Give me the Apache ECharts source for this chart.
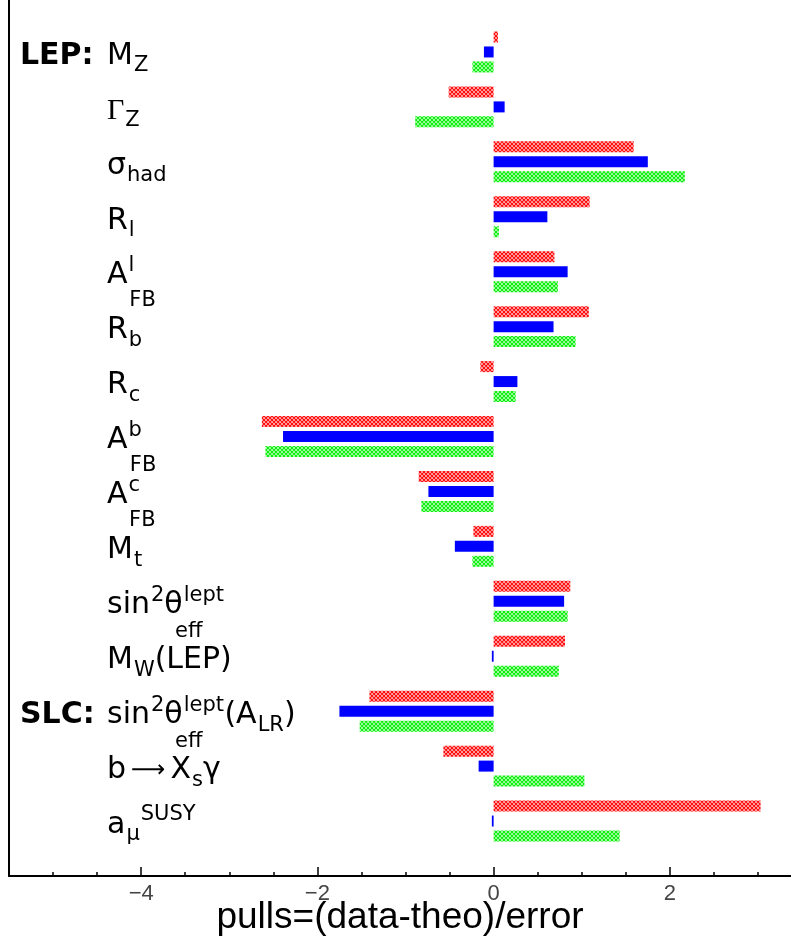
<!DOCTYPE html>
<html><head><meta charset="utf-8">
<script src="https://cdn.jsdelivr.net/npm/echarts@6/dist/echarts.min.js"></script>
<style>html,body{margin:0;padding:0;background:#fff}#c{width:791px;height:943px}</style>
</head><body><div id="c"></div>
<script>
// ---- data ----
const categories = ['M_Z','Gamma_Z','sigma_had','R_l','A_FB^l','R_b','R_c','A_FB^b','A_FB^c','M_t','sin2theta_eff','M_W(LEP)','sin2theta_eff(A_LR)','b->X_s gamma','a_mu^SUSY'];
const groupLabels = ['LEP:','','','','','','','','','','','','SLC:','',''];
const redPulls   = [0.05,-0.51,1.59,1.09,0.69,1.08,-0.15,-2.63,-0.85,-0.23,0.87,0.81,-1.41,-0.57,3.03];
const bluePulls  = [-0.11,0.125,1.75,0.61,0.84,0.68,0.27,-2.39,-0.74,-0.44,0.80,-0.02,-1.75,-0.17,-0.02];
const greenPulls = [-0.24,-0.89,2.17,0.06,0.73,0.93,0.25,-2.59,-0.82,-0.24,0.84,0.74,-1.52,1.03,1.43];
const majorTicks = [-4,-2,0,2];
const minorTicks = [-5,-4.5,-3.5,-3,-2.5,-1.5,-1,-0.5,0.5,1,1.5,2.5,3];
const xTitle = 'pulls=(data-theo)/error';
// rich-text label markup (sub/superscripts)
const labelMarkup = [
  '{m|M}{sub|Z}',
  '{gr|Γ}{sub|Z}',
  '{m|σ}{sub|had}',
  '{m|R}{sub|l}',
  '{m|A}{sup|l}{fbl|FB}',
  '{m|R}{sub|b}',
  '{m|R}{sub|c}',
  '{m|A}{sup|b}{fbb|FB}',
  '{m|A}{sup|c}{fbc|FB}',
  '{m|M}{sub|t}',
  '{m|sin}{sup|2}{m|θ}{sup|lept}{eff|eff}',
  '{m|M}{sub|W}{m|(LEP)}',
  '{m|sin}{sup|2}{m|θ}{sup|lept}{eff|eff}{par|(A}{sub|LR}{m|)}',
  '{m|b}{ar|⟶}{m|X}{sub|s}{m|γ}',
  '{m|a}{sub|μ}{sup|SUSY}'
];

// ---- style ----
const F = 'DejaVu Sans';
const MS = 30, SS = 21;
function hatch(color){
  const c = document.createElement('canvas'); c.width = 4; c.height = 4;
  const x = c.getContext('2d');
  x.strokeStyle = color; x.lineWidth = 1.3;
  x.beginPath();
  x.moveTo(-1,-1); x.lineTo(5,5);
  x.moveTo(5,-1); x.lineTo(-1,5);
  x.moveTo(-1,3); x.lineTo(1,5); x.moveTo(3,-1); x.lineTo(5,1);
  x.moveTo(-1,1); x.lineTo(1,-1); x.moveTo(3,5); x.lineTo(5,3);
  x.stroke();
  return {image: c, repeat: 'repeat'};
}
// token style; dy = vertical shift (px, down positive), dx = left padding
function tok(size, dy, dx, fam){
  const p = dy >= 0 ? [2*dy, 0, 0, dx || 0] : [0, 0, -2*dy, dx || 0];
  return {fontFamily: fam || F, fontSize: size, color: '#000', verticalAlign: 'middle', padding: p};
}
const D = 4;
const rich = {
  m:   tok(MS, D, 0),
  gr:  tok(MS, D, 0, 'Liberation Serif'),
  ar:  Object.assign(tok(24, D, 0), {padding: [2*D + 2, 5, 0, 5]}),
  sub: tok(SS, 10 + D, 1),
  sup: tok(SS, -10 + D, 1),
  fbl: tok(SS, 25 + D, -5),
  fbb: tok(SS, 25 + D, -12),
  fbc: tok(SS, 25 + D, -11),
  eff: tok(SS, 26 + D, -49),
  par: tok(MS, D, 22)
};
const XMIN = -5.5, XMAX = 3.375;

const chart = echarts.init(document.getElementById('c'), null, {renderer: 'canvas'});
chart.setOption({
  animation: false,
  backgroundColor: '#fff',
  grid: [
    {left: 9, right: 0, top: 0, bottom: 67, containLabel: false, outerBoundsMode: 'none'},
    {left: 9, right: 0, top: 24.5, height: 824, containLabel: false, outerBoundsMode: 'none'}
  ],
  xAxis: [
    {gridIndex: 0, type: 'value', min: XMIN, max: XMAX, position: 'bottom',
     axisLine: {show: true, onZero: false, lineStyle: {color: '#000', width: 2}},
     axisTick: {show: true, inside: true, length: 9, customValues: majorTicks, lineStyle: {color: '#000', width: 1.5}},
     axisLabel: {show: true, customValues: majorTicks, margin: 7, fontFamily: 'Liberation Sans', fontSize: 22, color: '#444',
       formatter: v => String(v).replace('-', '\u2212')},
     splitLine: {show: false},
     name: xTitle, nameLocation: 'middle', nameGap: 23, nameMoveOverlap: false,
     nameTextStyle: {fontFamily: 'Liberation Sans', fontSize: 37, color: '#000', verticalAlign: 'top'}},
    {gridIndex: 0, type: 'value', min: XMIN, max: XMAX, position: 'bottom', offset: 0,
     axisLine: {show: false, onZero: false},
     axisTick: {show: true, inside: true, length: 4, customValues: minorTicks, lineStyle: {color: '#000', width: 1.5}},
     axisLabel: {show: false}, splitLine: {show: false}},
    {gridIndex: 1, type: 'value', min: XMIN, max: XMAX, show: false, splitLine: {show: false}}
  ],
  yAxis: [
    {gridIndex: 0, type: 'value', min: 0, max: 1, position: 'left',
     axisLine: {show: true, onZero: false, lineStyle: {color: '#000', width: 2}},
     axisTick: {show: false}, axisLabel: {show: false}, splitLine: {show: false}},
    {gridIndex: 1, type: 'category', data: categories, inverse: true, position: 'left',
     axisLine: {show: false}, axisTick: {show: false}, splitLine: {show: false},
     axisLabel: {show: true, inside: true, interval: 0, margin: 98, align: 'left',
       formatter: (v, i) => labelMarkup[i], rich: rich}},
    {gridIndex: 1, type: 'category', data: categories, inverse: true, position: 'left', offset: 0,
     axisLine: {show: false}, axisTick: {show: false}, splitLine: {show: false},
     axisLabel: {show: true, inside: true, interval: 0, margin: 11, align: 'left',
       formatter: (v, i) => groupLabels[i] ? '{g|' + groupLabels[i] + '}' : '',
       rich: {g: Object.assign(tok(MS, D, 0), {fontWeight: 'bold'})}}}
  ],
  series: [
    {type: 'bar', name: 'red', xAxisIndex: 2, yAxisIndex: 1, data: redPulls, barWidth: 11, barGap: '36%',
     itemStyle: {color: hatch('#ff1010')}},
    {type: 'bar', name: 'blue', xAxisIndex: 2, yAxisIndex: 1, data: bluePulls, barWidth: 11, barGap: '36%',
     itemStyle: {color: '#0000ff'}},
    {type: 'bar', name: 'green', xAxisIndex: 2, yAxisIndex: 1, data: greenPulls, barWidth: 11, barGap: '36%',
     itemStyle: {color: hatch('#10f010')}}
  ]
});
</script></body></html>
